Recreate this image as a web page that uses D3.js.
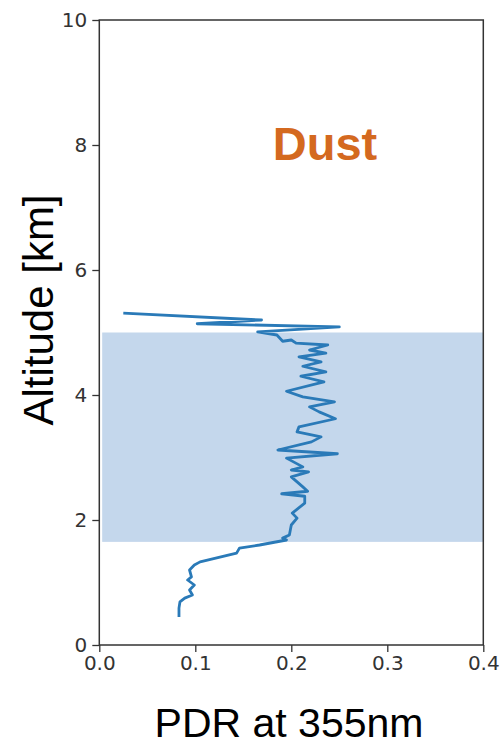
<!DOCTYPE html>
<html>
<head>
<meta charset="utf-8">
<script src="https://cdn.jsdelivr.net/npm/d3@7"></script>
<style>
  body { margin: 0; background: #fff; }
  svg { display: block; }
</style>
</head>
<body>
<div id="chart"></div>
<script>
let width = 503;
let height = 748;

// PDR profile (top of profile first)
let pdr = [0.025, 0.169, 0.102, 0.250, 0.165, 0.185, 0.191, 0.200, 0.205, 0.238,
  0.219, 0.236, 0.208, 0.231, 0.212, 0.236, 0.210, 0.234, 0.195, 0.212,
  0.245, 0.219, 0.229, 0.246, 0.208, 0.206, 0.231, 0.221, 0.186, 0.248,
  0.195, 0.212, 0.200, 0.218, 0.200, 0.212, 0.217, 0.190, 0.214, 0.214,
  0.201, 0.206, 0.200, 0.198, 0.191, 0.195, 0.167, 0.146, 0.143, 0.105,
  0.099, 0.094, 0.096, 0.092, 0.099, 0.094, 0.097, 0.089, 0.084, 0.083, 0.083];
let altitude = [5.31, 5.20, 5.14, 5.09, 5.01, 4.96, 4.86, 4.88, 4.83, 4.80,
  4.72, 4.67, 4.61, 4.53, 4.46, 4.37, 4.30, 4.21, 4.06, 3.97,
  3.89, 3.81, 3.73, 3.62, 3.49, 3.41, 3.33, 3.25, 3.12, 3.06,
  2.99, 2.85, 2.80, 2.77, 2.69, 2.53, 2.46, 2.42, 2.38, 2.27,
  2.11, 2.03, 1.92, 1.76, 1.71, 1.68, 1.60, 1.55, 1.47, 1.33,
  1.28, 1.20, 1.09, 1.04, 0.96, 0.88, 0.80, 0.75, 0.69, 0.59, 0.45];

let layerBottom = 1.65;
let layerTop = 5.0;
let layerLeft = 0.003;

let xTicks = [0.0, 0.1, 0.2, 0.3, 0.4];
let yTicks = [0, 2, 4, 6, 8, 10];

let svg = d3.select('#chart')
  .append('svg')
  .attr('width', width)
  .attr('height', height);

let x = d3.scaleLinear().domain([0, 0.4]).range([99.3, 483.3]);
let y = d3.scaleLinear().domain([0, 10]).range([645, 20]);

// dust layer
svg.append('rect')
  .attr('x', x(layerLeft))
  .attr('y', y(layerTop))
  .attr('width', x(0.4) - x(layerLeft))
  .attr('height', y(layerBottom) - y(layerTop))
  .attr('fill', '#c4d7ec');

let line = d3.line()
  .x(function(d, i) { return x(pdr[i]); })
  .y(function(d, i) { return y(altitude[i]); });

svg.append('path')
  .datum(pdr)
  .attr('d', line)
  .attr('fill', 'none')
  .attr('stroke', '#2a7ab8')
  .attr('stroke-width', 2.8)
  .attr('stroke-linejoin', 'round');

// frame
svg.append('rect')
  .attr('x', x(0))
  .attr('y', y(10))
  .attr('width', x(0.4) - x(0))
  .attr('height', y(0) - y(10))
  .attr('fill', 'none')
  .attr('stroke', '#333')
  .attr('stroke-width', 1.5);

let xAxis = svg.append('g')
  .attr('transform', 'translate(0,' + y(0) + ')')
  .call(d3.axisBottom(x).tickValues(xTicks).tickFormat(d3.format('.1f')).tickSize(7).tickPadding(4));

let yAxis = svg.append('g')
  .attr('transform', 'translate(' + x(0) + ',0)')
  .call(d3.axisLeft(y).tickValues(yTicks).tickFormat(d3.format('d')).tickSize(7).tickPadding(5));

[xAxis, yAxis].forEach(function(a) {
  a.select('.domain').remove();
  a.selectAll('.tick line').attr('stroke', '#333').attr('stroke-width', 1.3);
  a.selectAll('.tick text')
    .attr('fill', '#333')
    .style('font-family', 'DejaVu Sans')
    .style('font-size', '20px');
});

svg.append('text')
  .attr('x', 325)
  .attr('y', 160)
  .attr('text-anchor', 'middle')
  .style('font-family', 'Liberation Sans, Arial')
  .style('font-weight', 'bold')
  .style('font-size', '47px')
  .attr('fill', '#d4691f')
  .text('Dust');

svg.append('text')
  .attr('transform', 'translate(53,310) rotate(-90)')
  .attr('text-anchor', 'middle')
  .style('font-family', 'Liberation Sans, Arial')
  .style('font-size', '42px')
  .attr('fill', '#000')
  .text('Altitude [km]');

svg.append('text')
  .attr('x', 289)
  .attr('y', 737)
  .attr('text-anchor', 'middle')
  .style('font-family', 'Liberation Sans, Arial')
  .style('font-size', '41px')
  .attr('fill', '#000')
  .text('PDR at 355nm');
</script>
</body>
</html>
